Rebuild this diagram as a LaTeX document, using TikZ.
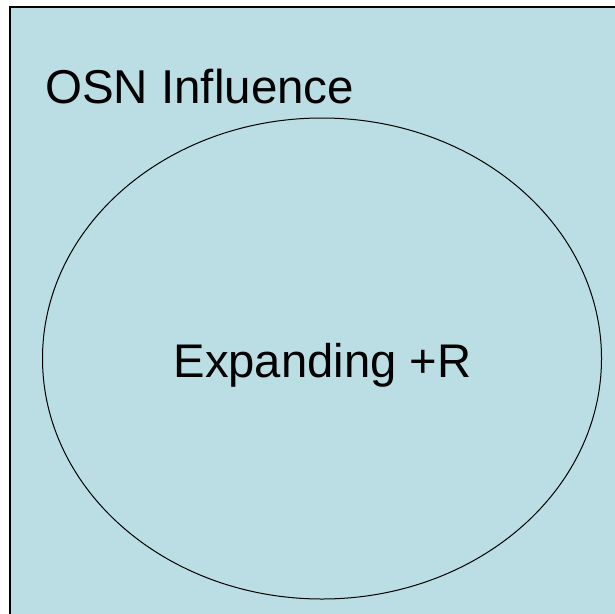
\documentclass[tikz,border=0pt]{standalone}
\usepackage{fontspec}
\setmainfont{Liberation Sans}
\usetikzlibrary{positioning}
\usetikzlibrary{shapes.geometric}
\definecolor{panelblue}{RGB}{187,222,228}

\begin{document}
\begin{tikzpicture}[x=1pt,y=-1pt]

        \useasboundingbox (0,0) rectangle (615,613);

        \draw [fill=panelblue, line width=1.6pt] (10,7) rectangle (625,623);

        \node [draw, ellipse, line width=1pt, minimum width=559pt, minimum height=481pt, inner sep=0pt] (expand) at (322,358.5) {};

        \node [anchor=base west, inner sep=0pt] (osn) at (45,103) {\fontsize{47.5}{52}\selectfont OSN Influence};

        \node [anchor=base, inner sep=0pt] (plusr) at (322.5,377) {\fontsize{47.2}{52}\selectfont Expanding +R};

\end{tikzpicture}
\end{document}
